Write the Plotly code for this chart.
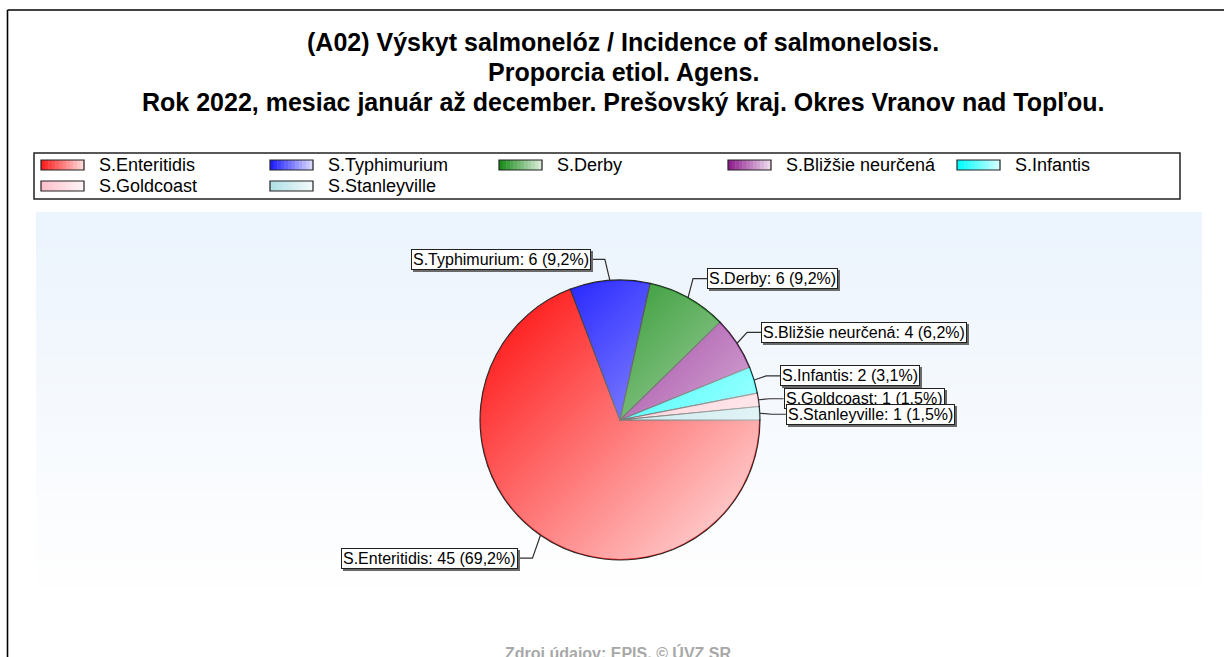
import base64
import math
import plotly.graph_objects as go

W, H = 1224, 657

# ---------------- data ----------------
labels = ["S.Enteritidis", "S.Typhimurium", "S.Derby", "S.Bližšie neurčená",
          "S.Infantis", "S.Goldcoast", "S.Stanleyville"]
values = [45, 6, 6, 4, 2, 1, 1]
colors = ["#FF2020", "#2020FF", "#1C8E1C", "#902090", "#00FFFF", "#FFC0CB", "#B0E0E6"]

title_lines = [
    "(A02) Výskyt salmonelóz / Incidence of salmonelosis.",
    "Proporcia etiol. Agens.",
    "Rok 2022, mesiac január až december. Prešovský kraj. Okres Vranov nad Topľou.",
]
source_text = "Zdroj údajov: EPIS, © ÚVZ SR"

# ---------------- layout constants (pixels) ----------------
CX, CY, R = 620, 420, 140          # pie centre / radius
label_offsets = [(-22, 23), (-19, -21), (19, -19), (24, -11), (26, -4), (25, -1), (26, 1)]
ELBOW = 14
FONT = "Liberation Sans, Arial, sans-serif"


def X(px):
    return px / W


def Y(py):
    return 1 - py / H


def hex2rgb(h):
    h = h.lstrip("#")
    return tuple(int(h[i:i + 2], 16) for i in (0, 2, 4))


def mix(c, w):
    r, g, b = hex2rgb(c)
    return "rgb(%d,%d,%d)" % (r + (255 - r) * w, g + (255 - g) * w, b + (255 - b) * w)


total = sum(values)
shapes = []
annotations = []
images = []

# frame
shapes.append(dict(type="line", xref="paper", yref="paper", x0=X(7.5), x1=X(W + 2), y0=Y(10), y1=Y(10),
                   line=dict(color="#000", width=1.6), layer="above"))
shapes.append(dict(type="line", xref="paper", yref="paper", x0=X(7.5), x1=X(7.5), y0=Y(10), y1=Y(H + 2),
                   line=dict(color="#000", width=1.6), layer="above"))

# plot-area background gradient
bg_top, bg_bot, bg_l, bg_r = 212, 597, 36, 1202
nb = 40
for i in range(nb):
    y0 = bg_top + (bg_bot - bg_top) * i / nb
    y1 = bg_top + (bg_bot - bg_top) * (i + 1) / nb + 1
    shapes.append(dict(type="rect", xref="paper", yref="paper", x0=X(bg_l), x1=X(bg_r), y0=Y(y0), y1=Y(min(y1, bg_bot)),
                       fillcolor=mix("#ECF4FD", i / (nb - 1)), line=dict(width=0), layer="below"))

# titles
title_y = [42, 72, 102]
for t, ty in zip(title_lines, title_y):
    annotations.append(dict(text=t, x=X(623), y=Y(ty), xref="paper", yref="paper", showarrow=False,
                            xanchor="center", yanchor="middle",
                            font=dict(family=FONT, size=25, color="#000", weight="bold")))

# legend box
shapes.append(dict(type="rect", xref="paper", yref="paper", x0=X(34), x1=X(1180), y0=Y(153), y1=Y(199),
                   line=dict(color="#222", width=1.5), fillcolor="white", layer="below"))
col_x = [97, 326, 555, 784, 1013]
row_y = [165, 186]
for i, (lab, c) in enumerate(zip(labels, colors)):
    tx = col_x[i % 5]
    ty = row_y[i // 5]
    sx0, sx1 = tx - 56, tx - 13
    ns = 12
    for k in range(ns):
        shapes.append(dict(type="rect", xref="paper", yref="paper",
                           x0=X(sx0 + (sx1 - sx0) * k / ns), x1=X(sx0 + (sx1 - sx0) * (k + 1) / ns + 0.5),
                           y0=Y(ty - 5), y1=Y(ty + 5), fillcolor=mix(c, 0.82 * k / (ns - 1)),
                           line=dict(width=0), layer="above"))
    shapes.append(dict(type="rect", xref="paper", yref="paper", x0=X(sx0), x1=X(sx1), y0=Y(ty - 5), y1=Y(ty + 5),
                       line=dict(color="#222", width=1.2), layer="above"))
    annotations.append(dict(text=lab, x=X(tx), y=Y(ty), xref="paper", yref="paper", showarrow=False,
                            xanchor="left", yanchor="middle", font=dict(family=FONT, size=18, color="#000")))

# pie
pie = go.Pie(
    labels=labels, values=values, sort=False, direction="clockwise", rotation=90,
    marker=dict(colors=colors, line=dict(color="#282828", width=1.1)),
    textinfo="none", showlegend=False,
    domain=dict(x=[X(CX - R), X(CX + R)], y=[Y(CY + R), Y(CY - R)]),
)

# gradient light overlay on the pie
svg = ('<svg xmlns="http://www.w3.org/2000/svg" width="{d}" height="{d}" viewBox="0 0 {d} {d}">'
       '<defs><linearGradient id="g" x1="0" y1="0" x2="1" y2="1">'
       '<stop offset="0.12" stop-color="#fff" stop-opacity="0"/>'
       '<stop offset="1" stop-color="#fff" stop-opacity="0.88"/></linearGradient></defs>'
       '<circle cx="{r}" cy="{r}" r="{rr}" fill="url(#g)"/></svg>').format(d=2 * R, r=R, rr=R - 1)
images.append(dict(source="data:image/svg+xml;base64," + base64.b64encode(svg.encode()).decode(),
                   xref="paper", yref="paper", x=X(CX - R), y=Y(CY - R), sizex=2 * R / W, sizey=2 * R / H,
                   xanchor="left", yanchor="top", sizing="stretch", layer="above"))

# slice labels with leader lines
cum = 0.0
for lab, v, (dx, dy) in zip(labels, values, label_offsets):
    mid = cum + v / 2
    cum += v
    theta = math.radians(-360 * mid / total)  # clockwise from 3 o'clock
    ex = CX + R * math.cos(theta)
    ey = CY - R * math.sin(theta)
    bx, by = ex + dx, ey + dy
    side = 1 if dx > 0 else -1
    elx = bx - side * ELBOW
    shapes.append(dict(type="path", xref="paper", yref="paper",
                       path="M %f,%f L %f,%f L %f,%f" % (X(ex), Y(ey), X(elx), Y(by), X(bx), Y(by)),
                       line=dict(color="#303030", width=1.2), layer="above"))
    pct = ("%.1f" % (100 * v / total)).replace(".", ",")
    txt = "%s: %d (%s%%)" % (lab, v, pct)
    anchor = "left" if side > 0 else "right"
    # shadow
    annotations.append(dict(text=txt, x=X(bx), y=Y(by), xref="paper", yref="paper", showarrow=False,
                            xanchor=anchor, yanchor="middle", xshift=2, yshift=-2,
                            font=dict(family=FONT, size=16, color="rgba(0,0,0,0)"),
                            bgcolor="#6a6a6a", bordercolor="#6a6a6a", borderwidth=1, borderpad=1))
    annotations.append(dict(text=txt, x=X(bx), y=Y(by), xref="paper", yref="paper", showarrow=False,
                            xanchor=anchor, yanchor="middle",
                            font=dict(family=FONT, size=16, color="#000"),
                            bgcolor="white", bordercolor="#202020", borderwidth=1, borderpad=1))

# source footer
annotations.append(dict(text=source_text, x=X(618), y=Y(653), xref="paper", yref="paper", showarrow=False,
                        xanchor="center", yanchor="middle",
                        font=dict(family=FONT, size=16, color="#A8A8A8", weight="bold")))

fig = go.Figure(pie)
fig.update_layout(
    width=W, height=H, autosize=False,
    margin=dict(l=0, r=0, t=0, b=0),
    paper_bgcolor="white", plot_bgcolor="white",
    shapes=shapes, annotations=annotations, images=images,
)
fig.write_html("out.html", config={"displayModeBar": False},
               post_script="document.body.style.margin='0';document.body.style.overflow='hidden';")
